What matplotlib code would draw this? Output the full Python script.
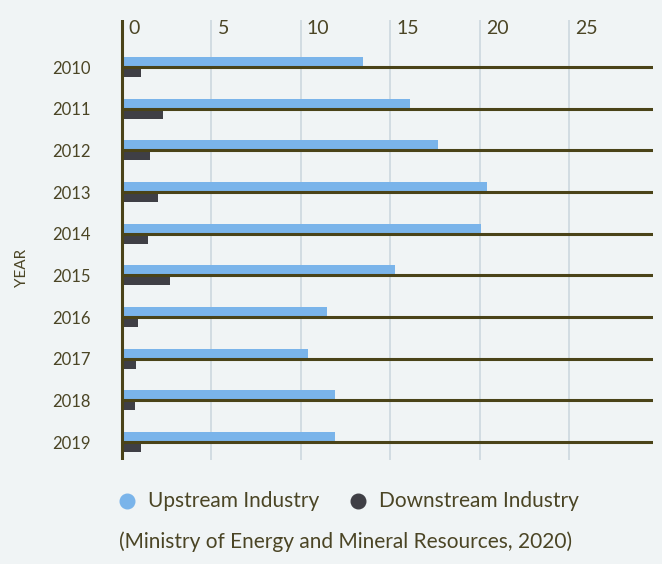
import matplotlib
matplotlib.use("Agg")
import matplotlib.pyplot as plt
from matplotlib.lines import Line2D
import numpy as np

# data
years = ["2010", "2011", "2012", "2013", "2014", "2015", "2016", "2017", "2018", "2019"]
upstream = [13.5, 16.1, 17.7, 20.4, 20.1, 15.3, 11.5, 10.4, 11.9, 11.9]
downstream = [1.1, 2.3, 1.6, 2.0, 1.45, 2.7, 0.9, 0.8, 0.75, 1.1]
x_ticks = [0, 5, 10, 15, 20, 25]

bg = "#f0f4f5"
blue = "#7ab4ea"
dark = "#3f3f45"
olive = "#4a4318"
grid = "#cdd8df"
txt = "#4b4525"

plt.rcParams['font.family'] = ['Lato', 'DejaVu Sans']

fig = plt.figure(figsize=(6.62, 5.64), dpi=100, facecolor=bg)
ax = fig.add_axes([120 / 662, 1 - 460 / 564, 533 / 662, 440 / 564])
ax.set_facecolor(bg)

y = np.arange(len(years))
h = 0.24
ax.barh(y - h / 2, upstream, height=h, color=blue, zorder=3)
ax.barh(y + h / 2, downstream, height=h, color=dark, zorder=3)

xmax = 29.7
# dark baselines across each category
ax.hlines(y, 0, xmax, color=olive, lw=2.2, zorder=4)

ax.set_xlim(-0.1, xmax)
ax.set_ylim(len(years) - 1 + 0.43, -1.13)

for t in x_ticks:
    ax.axvline(t, color=grid, lw=1.2, zorder=1)
    ax.text(t + 0.35, -0.93, str(t), color=txt, fontsize=14,
            ha="left", va="center", zorder=5)
ax.axvline(0, color=olive, lw=2.2, zorder=5)

for sp in ax.spines.values():
    sp.set_visible(False)
ax.set_xticks([])
ax.set_yticks(y)
ax.set_yticklabels(years, color=txt, fontsize=12)
ax.tick_params(axis="y", length=0, pad=21)
fig.text(22 / 662, 1 - 268 / 564, "YEAR", color=txt, fontsize=11,
         rotation=90, ha="center", va="center")

# legend and source note
fig.add_artist(Line2D([127 / 662], [1 - 501 / 564], marker="o", markersize=10.5,
                      color=blue, lw=0, transform=fig.transFigure))
fig.text(148 / 662, 1 - 501 / 564, "Upstream Industry", color=txt,
         fontsize=15, ha="left", va="center")
fig.add_artist(Line2D([358 / 662], [1 - 501 / 564], marker="o", markersize=10.5,
                      color=dark, lw=0, transform=fig.transFigure))
fig.text(379 / 662, 1 - 501 / 564, "Downstream Industry", color=txt,
         fontsize=15, ha="left", va="center")
fig.text(119 / 662, 1 - 542 / 564, "(Ministry of Energy and Mineral Resources, 2020)",
         color=txt, fontsize=15, ha="left", va="center")

fig.savefig("out.png", dpi=100, facecolor=bg)
